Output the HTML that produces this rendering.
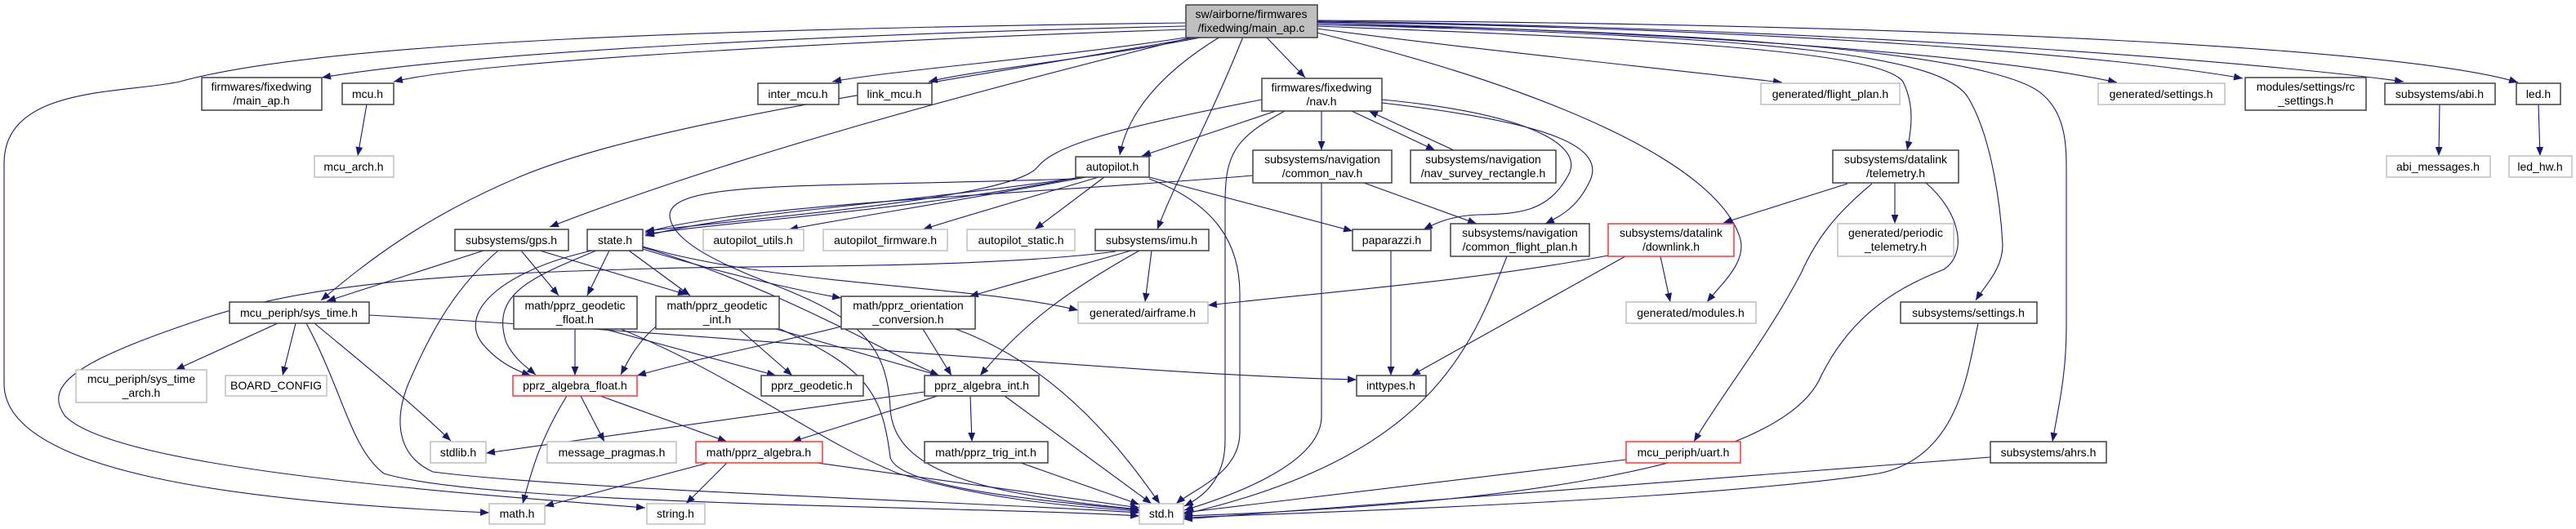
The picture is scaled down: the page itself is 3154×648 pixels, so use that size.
<!DOCTYPE html>
<html><head><meta charset="utf-8"><style>
html,body{margin:0;padding:0;background:#fff;}
svg{display:block;}
text{font-family:"Liberation Sans",sans-serif;font-size:14px;fill:#000;text-anchor:middle;}
.b{fill:#fff;stroke:#404040;stroke-width:1.5;}
.g{fill:#fff;stroke:#bfbfbf;stroke-width:1.5;}
.r{fill:#fff;stroke:#ff3333;stroke-width:1.5;}
.e{fill:none;stroke:#191970;stroke-width:1.1;marker-end:url(#a);}
</style></head><body>
<svg width="3154" height="648" viewBox="0 0 3154 648" xmlns="http://www.w3.org/2000/svg">
<defs><marker id="a" viewBox="0 0 10 8" refX="10" refY="4" markerWidth="11" markerHeight="9" markerUnits="userSpaceOnUse" orient="auto"><path d="M0,0 L10,4 L0,8 z" fill="#191970"/></marker></defs>

<path class="e" d="M1451,32 C1100,40 600,60 394,95"/>
<path class="e" d="M1451,36 C1100,48 600,72 482,100"/>
<path class="e" d="M1451,28 C900,35 400,50 220,100 C150,115 5,105 5,200 L5,470 C5,580 300,615 599,628"/>
<path class="e" d="M1458,45 C1300,70 1100,85 1019,100"/>
<path class="e" d="M1475,45 C1350,70 1200,85 1137,100"/>
<path class="e" d="M1470,45 C1100,110 800,150 640,215 C520,265 450,320 393,368"/>
<path class="e" d="M1462,45 C1200,110 900,190 673,278"/>
<path class="e" d="M1494,45 C1420,90 1380,140 1371,190"/>
<path class="e" d="M1522,45 C1480,150 1440,220 1417,281"/>
<path class="e" d="M1550,45 L1598,95"/>
<path class="e" d="M1612,35 C1800,60 2000,80 2182,101"/>
<path class="e" d="M1612,40 C1900,110 2100,200 2130,290 C2140,320 2110,345 2090,370"/>
<path class="e" d="M1612,32 C2000,47 2300,60 2330,100 C2345,130 2340,160 2335,184"/>
<path class="e" d="M1612,30 C2200,45 2380,70 2410,120 C2440,170 2450,260 2452,300 C2452,330 2430,350 2419,368"/>
<path class="e" d="M1612,30 C2250,40 2460,80 2500,115 C2530,140 2530,180 2530,210 L2530,400 C2530,460 2520,500 2513,541"/>
<path class="e" d="M1612,28 C2100,40 2450,70 2592,101"/>
<path class="e" d="M1612,27 C2200,35 2600,70 2746,96"/>
<path class="e" d="M1612,26 C2300,35 2800,80 2943,100"/>
<path class="e" d="M1612,25 C2400,30 2950,60 3083,101"/>

<path class="e" d="M449,128 L438,191"/>
<path class="e" d="M1618,136 L1618,184"/>
<path class="e" d="M1655,136 L1757,184"/>
<path class="e" d="M1780,184 L1676,136"/>
<path class="e" d="M1562,136 L1398,191"/>
<path class="e" d="M1545,122 C1350,160 1290,180 1270,205 C1240,240 1000,260 790,283"/>
<path class="e" d="M1692,122 C1880,140 1940,180 1920,215 C1895,260 1860,262 1810,263 C1780,264 1760,272 1743,281"/>
<path class="e" d="M1692,126 C1900,150 1970,180 1945,225 C1930,255 1910,265 1892,274"/>
<path class="e" d="M1573,136 C1510,170 1500,190 1500,250 L1500,540 C1500,590 1470,610 1450,620"/>
<path class="e" d="M1534,215 C1300,235 900,250 790,285"/>
<path class="e" d="M1670,224 L1808,274"/>
<path class="e" d="M1618,224 L1618,510 C1618,570 1500,610 1450,625"/>
<path class="e" d="M1317,218 C1100,260 900,270 790,287"/>
<path class="e" d="M1325,217 C1100,250 900,260 790,289"/>
<path class="e" d="M1330,217 C1150,250 1050,265 966,281"/>
<path class="e" d="M1345,217 C1250,245 1180,265 1130,281"/>
<path class="e" d="M1352,217 L1267,281"/>
<path class="e" d="M1407,217 L1656,283"/>
<path class="e" d="M1407,219 C1490,250 1518,300 1518,360 L1518,530 C1518,580 1460,600 1440,617"/>
<path class="e" d="M1315,219 C1000,230 820,220 820,264 C822,300 900,330 953,351 C1050,390 1086,420 1090,500 C1094,578 1200,605 1395,624"/>

<path class="e" d="M592,307 L400,369"/>
<path class="e" d="M638,307 L684,362"/>
<path class="e" d="M661,307 L841,361"/>
<path class="e" d="M610,307 C560,350 530,400 500,470 C480,520 490,560 530,578 C700,600 1200,615 1395,628"/>
<path class="e" d="M746,307 L719,362"/>
<path class="e" d="M730,307 C650,340 600,360 620,420 C630,440 645,450 656,459"/>
<path class="e" d="M725,307 C620,330 560,380 590,420 C610,445 635,455 650,460"/>
<path class="e" d="M770,307 L845,362"/>
<path class="e" d="M787,305 C900,340 1000,360 1030,365"/>
<path class="e" d="M787,303 C950,350 1100,440 1150,460"/>
<path class="e" d="M787,302 C950,350 1200,350 1320,380"/>
<path class="e" d="M1366,308 C1200,330 900,325 800,329 C600,335 400,340 250,390 C100,440 50,470 80,510 C140,570 500,600 790,622"/>
<path class="e" d="M340,396 L215,453"/>
<path class="e" d="M362,396 L346,460"/>
<path class="e" d="M385,396 C450,450 500,490 552,540"/>
<path class="e" d="M375,396 C420,480 430,550 470,580 C600,620 1200,620 1395,632"/>
<path class="e" d="M452,386 C900,410 1400,460 1661,465"/>
<path class="e" d="M704,403 L704,460"/>
<path class="e" d="M740,403 L950,460"/>
<path class="e" d="M760,403 C900,460 1000,540 1100,580 C1200,610 1300,620 1395,626"/>
<path class="e" d="M694,485 C660,540 650,580 640,617"/>
<path class="e" d="M711,485 L740,541"/>
<path class="e" d="M735,485 L890,541"/>
<path class="e" d="M905,403 L970,460"/>
<path class="e" d="M950,403 L1150,460"/>
<path class="e" d="M955,403 C1060,450 1080,480 1090,560 C1100,600 1300,615 1395,625"/>
<path class="e" d="M803,400 C780,420 770,440 760,459"/>
<path class="e" d="M1030,400 C950,420 850,440 780,460"/>
<path class="e" d="M1130,403 L1165,460"/>
<path class="e" d="M1170,403 C1300,450 1380,560 1420,617"/>
<path class="e" d="M1385,307 L1187,363"/>
<path class="e" d="M1410,307 L1402,370"/>
<path class="e" d="M1395,307 C1300,360 1250,400 1200,460"/>
<path class="e" d="M1132,480 L595,555"/>
<path class="e" d="M1148,485 L970,541"/>
<path class="e" d="M1188,485 L1190,541"/>
<path class="e" d="M1230,485 L1410,617"/>
<path class="e" d="M867,567 L667,620"/>
<path class="e" d="M890,567 L840,617"/>
<path class="e" d="M1000,567 L1395,622"/>
<path class="e" d="M1250,567 L1395,618"/>
<path class="e" d="M1703,307 L1703,460"/>
<path class="e" d="M1845,314 C1800,430 1750,560 1449,630"/>
<path class="e" d="M1969,313 C1800,345 1600,360 1479,374"/>
<path class="e" d="M2033,314 L2045,370"/>
<path class="e" d="M1990,314 L1728,460"/>
<path class="e" d="M2262,225 L2110,273"/>
<path class="e" d="M2320,224 L2320,274"/>
<path class="e" d="M2292,225 C2250,260 2225,290 2205,335 C2160,420 2110,480 2074,541"/>
<path class="e" d="M2358,224 C2400,260 2410,310 2380,330 C2330,350 2270,380 2230,460 C2180,580 1800,620 1449,632"/>
<path class="e" d="M2422,396 C2410,450 2400,560 2300,580 C2100,610 1700,625 1449,634"/>
<path class="e" d="M2437,560 L1449,636"/>
<path class="e" d="M1991,563 L1449,628"/>
<path class="e" d="M2987,128 L2986,191"/>
<path class="e" d="M3108,128 L3110,191"/>

<rect x="1452" y="6" width="161" height="40" fill="#bfbfbf" stroke="#404040" stroke-width="1.5"/>
<text x="1532" y="22">sw/airborne/firmwares</text><text x="1532" y="39">/fixedwing/main_ap.c</text>

<rect class="b" x="247" y="95" width="147" height="40"/><text x="320" y="111">firmwares/fixedwing</text><text x="320" y="128">/main_ap.h</text>
<rect class="b" x="419" y="102" width="63" height="26"/><text x="450" y="120">mcu.h</text>
<rect class="g" x="385" y="191" width="97" height="26"/><text x="433" y="209">mcu_arch.h</text>
<rect class="b" x="928" y="102" width="99" height="26"/><text x="977" y="120">inter_mcu.h</text>
<rect class="b" x="1050" y="102" width="91" height="26"/><text x="1095" y="120">link_mcu.h</text>
<rect class="b" x="1545" y="96" width="147" height="40"/><text x="1618" y="112">firmwares/fixedwing</text><text x="1618" y="129">/nav.h</text>
<rect class="g" x="2156" y="102" width="170" height="26"/><text x="2241" y="120">generated/flight_plan.h</text>
<rect class="g" x="2569" y="102" width="155" height="26"/><text x="2646" y="120">generated/settings.h</text>
<rect class="b" x="2749" y="95" width="148" height="40"/><text x="2823" y="111">modules/settings/rc</text><text x="2823" y="128">_settings.h</text>
<rect class="b" x="2920" y="102" width="135" height="26"/><text x="2987" y="120">subsystems/abi.h</text>
<rect class="b" x="3081" y="102" width="54" height="26"/><text x="3108" y="120">led.h</text>
<rect class="g" x="2922" y="191" width="127" height="26"/><text x="2985" y="209">abi_messages.h</text>
<rect class="g" x="3072" y="191" width="77" height="26"/><text x="3110" y="209">led_hw.h</text>

<rect class="b" x="1317" y="192" width="90" height="25"/><text x="1362" y="209">autopilot.h</text>
<rect class="b" x="1534" y="184" width="170" height="40"/><text x="1619" y="200">subsystems/navigation</text><text x="1619" y="217">/common_nav.h</text>
<rect class="b" x="1727" y="184" width="178" height="40"/><text x="1816" y="200">subsystems/navigation</text><text x="1816" y="217">/nav_survey_rectangle.h</text>
<rect class="b" x="2244" y="184" width="154" height="40"/><text x="2321" y="200">subsystems/datalink</text><text x="2321" y="217">/telemetry.h</text>

<rect class="b" x="557" y="281" width="139" height="26"/><text x="626" y="299">subsystems/gps.h</text>
<rect class="b" x="719" y="281" width="68" height="26"/><text x="753" y="299">state.h</text>
<rect class="g" x="861" y="281" width="123" height="26"/><text x="922" y="299">autopilot_utils.h</text>
<rect class="g" x="1008" y="281" width="152" height="26"/><text x="1084" y="299">autopilot_firmware.h</text>
<rect class="g" x="1184" y="281" width="132" height="26"/><text x="1250" y="299">autopilot_static.h</text>
<rect class="b" x="1341" y="281" width="139" height="26"/><text x="1410" y="299">subsystems/imu.h</text>
<rect class="b" x="1656" y="281" width="96" height="26"/><text x="1704" y="299">paparazzi.h</text>
<rect class="b" x="1776" y="274" width="170" height="40"/><text x="1861" y="290">subsystems/navigation</text><text x="1861" y="307">/common_flight_plan.h</text>
<rect class="r" x="1969" y="274" width="154" height="40"/><text x="2046" y="290">subsystems/datalink</text><text x="2046" y="307">/downlink.h</text>
<rect class="g" x="2250" y="274" width="142" height="40"/><text x="2321" y="290">generated/periodic</text><text x="2321" y="307">_telemetry.h</text>

<rect class="b" x="281" y="370" width="171" height="26"/><text x="366" y="388">mcu_periph/sys_time.h</text>
<rect class="b" x="629" y="363" width="151" height="40"/><text x="704" y="379">math/pprz_geodetic</text><text x="704" y="396">_float.h</text>
<rect class="b" x="803" y="363" width="151" height="40"/><text x="878" y="379">math/pprz_geodetic</text><text x="878" y="396">_int.h</text>
<rect class="b" x="1030" y="363" width="164" height="40"/><text x="1112" y="379">math/pprz_orientation</text><text x="1112" y="396">_conversion.h</text>
<rect class="g" x="1320" y="370" width="159" height="26"/><text x="1399" y="388">generated/airframe.h</text>
<rect class="g" x="1991" y="370" width="159" height="26"/><text x="2070" y="388">generated/modules.h</text>
<rect class="b" x="2327" y="370" width="167" height="26"/><text x="2410" y="388">subsystems/settings.h</text>

<rect class="g" x="93" y="453" width="160" height="40"/><text x="173" y="469">mcu_periph/sys_time</text><text x="173" y="486">_arch.h</text>
<rect class="g" x="276" y="460" width="124" height="25"/><text x="338" y="477">BOARD_CONFIG</text>
<rect class="r" x="628" y="460" width="152" height="25"/><text x="704" y="477">pprz_algebra_float.h</text>
<rect class="b" x="932" y="460" width="125" height="25"/><text x="994" y="477">pprz_geodetic.h</text>
<rect class="b" x="1132" y="460" width="140" height="25"/><text x="1202" y="477">pprz_algebra_int.h</text>
<rect class="b" x="1661" y="460" width="85" height="25"/><text x="1703" y="477">inttypes.h</text>

<rect class="g" x="527" y="541" width="68" height="26"/><text x="561" y="559">stdlib.h</text>
<rect class="g" x="670" y="541" width="158" height="26"/><text x="749" y="559">message_pragmas.h</text>
<rect class="r" x="852" y="541" width="155" height="26"/><text x="929" y="559">math/pprz_algebra.h</text>
<rect class="b" x="1132" y="541" width="151" height="26"/><text x="1207" y="559">math/pprz_trig_int.h</text>
<rect class="r" x="1991" y="541" width="140" height="26"/><text x="2061" y="559">mcu_periph/uart.h</text>
<rect class="b" x="2437" y="541" width="142" height="26"/><text x="2508" y="559">subsystems/ahrs.h</text>

<rect class="g" x="599" y="617" width="68" height="25"/><text x="633" y="634">math.h</text>
<rect class="g" x="792" y="617" width="71" height="25"/><text x="827" y="634">string.h</text>
<rect class="g" x="1395" y="617" width="54" height="25"/><text x="1422" y="634">std.h</text>
</svg>
</body></html>
